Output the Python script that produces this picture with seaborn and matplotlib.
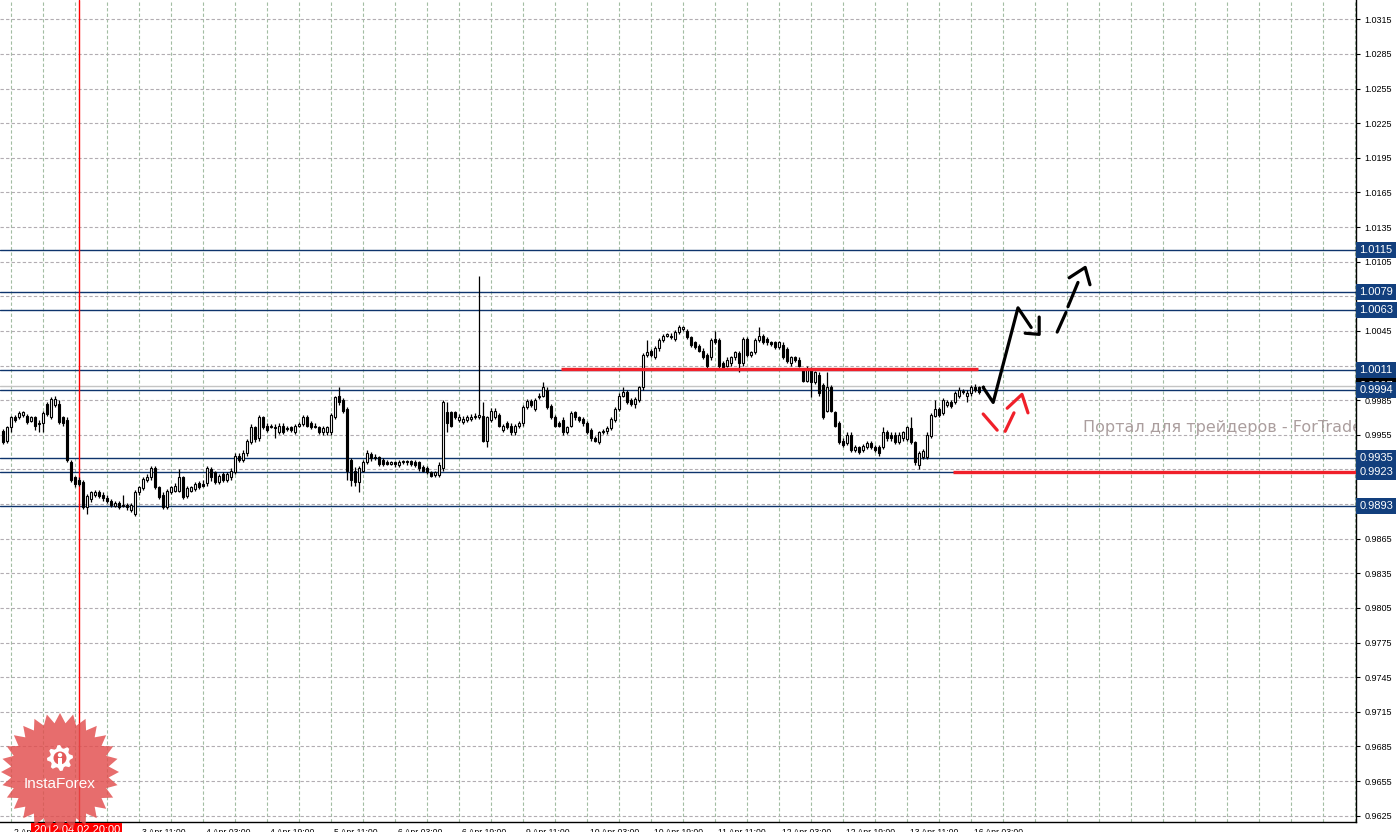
import matplotlib
matplotlib.use("Agg")
import matplotlib.pyplot as plt
import matplotlib.transforms as mtransforms
from matplotlib.patches import Polygon, Circle
import numpy as np
import pandas as pd
import seaborn as sns

# EURCHF-like H1 candles, 2 Apr 01:00 .. 16 Apr, one bar per hour
opens = [
    0.9958, 0.9950, 0.9962, 0.9970, 0.9970, 0.9972, 0.9971, 0.9967, 0.9970, 0.9964,
    0.9965, 0.9982, 0.9970, 0.9981, 0.9982, 0.9970, 0.9968, 0.9931, 0.9918, 0.9916,
    0.9914, 0.9892, 0.9899, 0.9903, 0.9905, 0.9903, 0.9900, 0.9898, 0.9893, 0.9896,
    0.9894, 0.9894, 0.9890, 0.9886, 0.9905, 0.9909, 0.9916, 0.9918, 0.9926, 0.9910,
    0.9903, 0.9892, 0.9905, 0.9906, 0.9906, 0.9918, 0.9902, 0.9906, 0.9908, 0.9913,
    0.9912, 0.9913, 0.9925, 0.9923, 0.9914, 0.9921, 0.9916, 0.9918, 0.9923, 0.9937,
    0.9933, 0.9939, 0.9949, 0.9962, 0.9952, 0.9970, 0.9963, 0.9963, 0.9962, 0.9957,
    0.9963, 0.9961, 0.9962, 0.9957, 0.9963, 0.9964, 0.9970, 0.9965, 0.9963, 0.9962,
    0.9957, 0.9957, 0.9957, 0.9970, 0.9989, 0.9985, 0.9977, 0.9933, 0.9924, 0.9914,
    0.9924, 0.9931, 0.9938, 0.9936, 0.9936, 0.9933, 0.9931, 0.9930, 0.9931, 0.9929,
    0.9931, 0.9932, 0.9932, 0.9931, 0.9931, 0.9927, 0.9926, 0.9923, 0.9920, 0.9920,
    0.9926, 0.9975, 0.9975, 0.9975, 0.9968, 0.9966, 0.9968, 0.9969, 0.9970, 0.9970,
    0.9971, 0.9950, 0.9968, 0.9970, 0.9972, 0.9959, 0.9965, 0.9963, 0.9957, 0.9963,
    0.9965, 0.9979, 0.9984, 0.9977, 0.9988, 0.9989, 0.9994, 0.9980, 0.9970, 0.9965,
    0.9968, 0.9957, 0.9963, 0.9975, 0.9970, 0.9969, 0.9965, 0.9959, 0.9952, 0.9949,
    0.9957, 0.9958, 0.9961, 0.9968, 0.9977, 0.9989, 0.9992, 0.9985, 0.9982, 0.9985,
    0.9996, 1.0024, 1.0028, 1.0022, 1.0030, 1.0037, 1.0041, 1.0041, 1.0038, 1.0044,
    1.0047, 1.0045, 1.0040, 1.0035, 1.0032, 1.0028, 1.0024, 1.0022, 1.0038, 1.0037,
    1.0017, 1.0015, 1.0017, 1.0022, 1.0026, 1.0017, 1.0038, 1.0024, 1.0027, 1.0037,
    1.0041, 1.0038, 1.0035, 1.0035, 1.0031, 1.0033, 1.0029, 1.0017, 1.0022, 1.0020,
    1.0011, 1.0002, 1.0012, 1.0001, 1.0007, 0.9998, 0.9976, 0.9996, 0.9975, 0.9965,
    0.9950, 0.9948, 0.9955, 0.9942, 0.9944, 0.9942, 0.9944, 0.9948, 0.9944, 0.9944,
    0.9944, 0.9957, 0.9955, 0.9955, 0.9949, 0.9952, 0.9951, 0.9961, 0.9949, 0.9929,
    0.9936, 0.9936, 0.9954, 0.9971, 0.9977, 0.9974, 0.9981, 0.9983, 0.9983, 0.9989,
    0.9992, 0.9989, 0.9991, 0.9996, 0.9996, 0.9996,
]
closes = [
    0.9949, 0.9962, 0.9970, 0.9968, 0.9974, 0.9975, 0.9966, 0.9970, 0.9963, 0.9965,
    0.9974, 0.9973, 0.9986, 0.9986, 0.9966, 0.9965, 0.9933, 0.9916, 0.9912, 0.9912,
    0.9892, 0.9902, 0.9905, 0.9905, 0.9902, 0.9900, 0.9898, 0.9894, 0.9896, 0.9892,
    0.9893, 0.9892, 0.9894, 0.9905, 0.9910, 0.9917, 0.9918, 0.9926, 0.9910, 0.9901,
    0.9892, 0.9906, 0.9910, 0.9911, 0.9918, 0.9901, 0.9909, 0.9910, 0.9912, 0.9910,
    0.9911, 0.9926, 0.9918, 0.9914, 0.9919, 0.9916, 0.9921, 0.9924, 0.9937, 0.9933,
    0.9939, 0.9950, 0.9962, 0.9951, 0.9970, 0.9962, 0.9959, 0.9962, 0.9961, 0.9963,
    0.9957, 0.9960, 0.9959, 0.9963, 0.9964, 0.9970, 0.9963, 0.9962, 0.9962, 0.9957,
    0.9961, 0.9962, 0.9972, 0.9988, 0.9983, 0.9976, 0.9924, 0.9916, 0.9914, 0.9926,
    0.9931, 0.9939, 0.9935, 0.9935, 0.9930, 0.9930, 0.9930, 0.9931, 0.9930, 0.9931,
    0.9932, 0.9931, 0.9930, 0.9929, 0.9926, 0.9924, 0.9923, 0.9919, 0.9923, 0.9929,
    0.9983, 0.9965, 0.9963, 0.9970, 0.9970, 0.9969, 0.9970, 0.9970, 0.9971, 0.9972,
    0.9950, 0.9970, 0.9976, 0.9976, 0.9963, 0.9963, 0.9962, 0.9957, 0.9963, 0.9965,
    0.9979, 0.9984, 0.9981, 0.9985, 0.9989, 0.9996, 0.9979, 0.9970, 0.9963, 0.9963,
    0.9957, 0.9962, 0.9974, 0.9970, 0.9968, 0.9965, 0.9957, 0.9952, 0.9950, 0.9957,
    0.9958, 0.9961, 0.9969, 0.9977, 0.9989, 0.9992, 0.9983, 0.9982, 0.9986, 0.9996,
    1.0024, 1.0027, 1.0024, 1.0030, 1.0037, 1.0041, 1.0042, 1.0040, 1.0044, 1.0048,
    1.0048, 1.0040, 1.0033, 1.0031, 1.0028, 1.0022, 1.0015, 1.0037, 1.0035, 1.0015,
    1.0013, 1.0020, 1.0022, 1.0027, 1.0017, 1.0038, 1.0024, 1.0027, 1.0037, 1.0041,
    1.0035, 1.0035, 1.0034, 1.0031, 1.0035, 1.0022, 1.0019, 1.0022, 1.0020, 1.0015,
    1.0002, 1.0013, 1.0001, 1.0009, 0.9991, 0.9970, 0.9996, 0.9976, 0.9963, 0.9949,
    0.9946, 0.9955, 0.9942, 0.9944, 0.9940, 0.9945, 0.9948, 0.9944, 0.9942, 0.9939,
    0.9957, 0.9952, 0.9952, 0.9949, 0.9955, 0.9957, 0.9962, 0.9949, 0.9931, 0.9939,
    0.9941, 0.9955, 0.9972, 0.9977, 0.9972, 0.9985, 0.9983, 0.9980, 0.9991, 0.9994,
    0.9993, 0.9991, 0.9996, 0.9994, 0.9992, 0.9997,
]
highs = [
    0.9960, 0.9963, 0.9971, 0.9972, 0.9976, 0.9976, 0.9973, 0.9971, 0.9971, 0.9968,
    0.9976, 0.9983, 0.9988, 0.9989, 0.9985, 0.9971, 0.9970, 0.9933, 0.9919, 0.9918,
    0.9916, 0.9904, 0.9906, 0.9907, 0.9907, 0.9905, 0.9903, 0.9899, 0.9898, 0.9898,
    0.9903, 0.9896, 0.9896, 0.9907, 0.9911, 0.9918, 0.9921, 0.9928, 0.9928, 0.9911,
    0.9905, 0.9908, 0.9911, 0.9913, 0.9925, 0.9919, 0.9911, 0.9911, 0.9914, 0.9915,
    0.9916, 0.9928, 0.9927, 0.9924, 0.9921, 0.9923, 0.9923, 0.9926, 0.9939, 0.9939,
    0.9942, 0.9951, 0.9964, 0.9963, 0.9972, 0.9971, 0.9965, 0.9964, 0.9964, 0.9965,
    0.9965, 0.9963, 0.9963, 0.9964, 0.9966, 0.9972, 0.9972, 0.9967, 0.9965, 0.9963,
    0.9963, 0.9963, 0.9974, 0.9989, 0.9996, 0.9987, 0.9979, 0.9935, 0.9927, 0.9928,
    0.9933, 0.9942, 0.9940, 0.9938, 0.9937, 0.9935, 0.9933, 0.9932, 0.9932, 0.9933,
    0.9933, 0.9933, 0.9933, 0.9933, 0.9932, 0.9929, 0.9928, 0.9924, 0.9924, 0.9931,
    0.9985, 0.9983, 0.9976, 0.9976, 0.9973, 0.9971, 0.9972, 0.9973, 0.9974, 1.0093,
    0.9983, 0.9971, 0.9978, 0.9978, 0.9974, 0.9964, 0.9967, 0.9965, 0.9964, 0.9967,
    0.9981, 0.9986, 0.9986, 0.9987, 0.9991, 1.0001, 0.9996, 0.9982, 0.9972, 0.9967,
    0.9970, 0.9963, 0.9976, 0.9976, 0.9971, 0.9970, 0.9967, 0.9961, 0.9954, 0.9958,
    0.9960, 0.9963, 0.9970, 0.9979, 0.9991, 0.9996, 0.9994, 0.9987, 0.9988, 0.9997,
    1.0026, 1.0037, 1.0029, 1.0032, 1.0039, 1.0042, 1.0043, 1.0043, 1.0046, 1.0050,
    1.0049, 1.0047, 1.0041, 1.0036, 1.0034, 1.0030, 1.0026, 1.0039, 1.0045, 1.0039,
    1.0019, 1.0022, 1.0023, 1.0028, 1.0028, 1.0040, 1.0040, 1.0028, 1.0039, 1.0048,
    1.0042, 1.0040, 1.0036, 1.0036, 1.0036, 1.0035, 1.0031, 1.0023, 1.0023, 1.0022,
    1.0013, 1.0015, 1.0014, 1.0010, 1.0009, 1.0000, 1.0009, 0.9998, 0.9976, 0.9967,
    0.9952, 0.9957, 0.9957, 0.9946, 0.9945, 0.9947, 0.9950, 0.9950, 0.9946, 0.9946,
    0.9962, 0.9959, 0.9957, 0.9957, 0.9957, 0.9958, 0.9963, 0.9970, 0.9950, 0.9941,
    0.9943, 0.9957, 0.9974, 0.9985, 0.9979, 0.9987, 0.9985, 0.9985, 0.9993, 0.9996,
    0.9995, 0.9994, 0.9998, 0.9999, 0.9997, 0.9998,
]
lows = [
    0.9947, 0.9948, 0.9957, 0.9966, 0.9969, 0.9970, 0.9964, 0.9966, 0.9959, 0.9957,
    0.9957, 0.9971, 0.9969, 0.9979, 0.9964, 0.9963, 0.9931, 0.9914, 0.9910, 0.9911,
    0.9891, 0.9886, 0.9897, 0.9901, 0.9900, 0.9898, 0.9896, 0.9892, 0.9892, 0.9891,
    0.9892, 0.9890, 0.9888, 0.9885, 0.9903, 0.9907, 0.9914, 0.9916, 0.9908, 0.9899,
    0.9891, 0.9891, 0.9904, 0.9905, 0.9905, 0.9899, 0.9900, 0.9905, 0.9906, 0.9908,
    0.9910, 0.9911, 0.9915, 0.9912, 0.9912, 0.9914, 0.9914, 0.9916, 0.9921, 0.9931,
    0.9931, 0.9937, 0.9947, 0.9949, 0.9950, 0.9960, 0.9957, 0.9961, 0.9952, 0.9956,
    0.9956, 0.9958, 0.9957, 0.9956, 0.9962, 0.9963, 0.9962, 0.9960, 0.9961, 0.9956,
    0.9955, 0.9955, 0.9955, 0.9969, 0.9981, 0.9974, 0.9916, 0.9911, 0.9911, 0.9905,
    0.9923, 0.9930, 0.9932, 0.9933, 0.9928, 0.9928, 0.9929, 0.9929, 0.9927, 0.9927,
    0.9930, 0.9929, 0.9928, 0.9927, 0.9924, 0.9923, 0.9921, 0.9918, 0.9918, 0.9918,
    0.9924, 0.9957, 0.9962, 0.9969, 0.9966, 0.9964, 0.9966, 0.9967, 0.9969, 0.9969,
    0.9949, 0.9944, 0.9966, 0.9969, 0.9962, 0.9957, 0.9960, 0.9955, 0.9955, 0.9961,
    0.9963, 0.9977, 0.9979, 0.9976, 0.9986, 0.9988, 0.9977, 0.9969, 0.9962, 0.9962,
    0.9955, 0.9956, 0.9962, 0.9968, 0.9966, 0.9963, 0.9956, 0.9950, 0.9949, 0.9947,
    0.9956, 0.9956, 0.9959, 0.9966, 0.9976, 0.9988, 0.9982, 0.9980, 0.9978, 0.9983,
    0.9994, 1.0022, 1.0022, 1.0021, 1.0028, 1.0035, 1.0040, 1.0038, 1.0036, 1.0042,
    1.0045, 1.0038, 1.0031, 1.0029, 1.0027, 1.0021, 1.0013, 1.0020, 1.0034, 1.0013,
    1.0011, 1.0014, 1.0015, 1.0020, 1.0009, 1.0015, 1.0022, 1.0022, 1.0025, 1.0035,
    1.0034, 1.0033, 1.0032, 1.0029, 1.0029, 1.0021, 1.0017, 1.0015, 1.0018, 1.0014,
    1.0001, 1.0001, 0.9988, 0.9999, 0.9989, 0.9969, 0.9975, 0.9975, 0.9962, 0.9947,
    0.9944, 0.9946, 0.9940, 0.9940, 0.9938, 0.9940, 0.9943, 0.9943, 0.9940, 0.9937,
    0.9943, 0.9950, 0.9950, 0.9947, 0.9947, 0.9950, 0.9950, 0.9947, 0.9929, 0.9925,
    0.9934, 0.9934, 0.9952, 0.9970, 0.9970, 0.9972, 0.9979, 0.9978, 0.9982, 0.9987,
    0.9990, 0.9983, 0.9989, 0.9992, 0.9990, 0.9995,
]

# time axis labels (bar index -> label)
tick_bars = [2, 18, 34, 50, 66, 82, 98, 114, 130, 146, 162, 178, 194, 210, 226, 242]
tick_labels = ["2 Apr 03:00", "2 Apr 19:00", "3 Apr 11:00", "4 Apr 03:00", "4 Apr 19:00",
               "5 Apr 11:00", "6 Apr 03:00", "6 Apr 19:00", "9 Apr 11:00", "10 Apr 03:00",
               "10 Apr 19:00", "11 Apr 11:00", "12 Apr 03:00", "12 Apr 19:00",
               "13 Apr 11:00", "16 Apr 03:00"]

y_ticks = [0.9625, 0.9655, 0.9685, 0.9715, 0.9745, 0.9775, 0.9805, 0.9835, 0.9865,
           0.9895, 0.9925, 0.9955, 0.9985, 1.0015, 1.0045, 1.0075, 1.0105, 1.0135,
           1.0165, 1.0195, 1.0225, 1.0255, 1.0285, 1.0315]

# horizontal support / resistance levels
levels = [1.0115, 1.0079, 1.0063, 1.0011, 0.9994, 0.9935, 0.9923, 0.9893]
bid = 0.9997
cross_bar = 19
cross_label = "2012.04.02 20:00"

red_levels = [(1.0012, 139.6, 243.8), (0.9923, 237.6, 338.3)]

# hand-drawn forecast strokes (bar, price)
black_strokes = [
    ([245.1, 247.6, 253.8, 257.1], [0.9996, 0.9983, 1.0065, 1.0048]),
    ([255.6, 259.1, 259.1], [1.0043, 1.0042, 1.0057]),
    ([263.6, 265.8], [1.0044, 1.0061]),
    ([266.3, 268.8], [1.0066, 1.0087]),
    ([266.6, 270.6, 271.8], [1.0091, 1.0100, 1.0085]),
]
red_strokes = [
    ([245.1, 248.6], [0.9973, 0.9959]),
    ([250.6, 252.8], [0.9958, 0.9974]),
    ([251.1, 254.8, 256.3], [0.9978, 0.9990, 0.9974]),
]

sns.set_style("white")
plt.rcParams["font.family"] = ["Liberation Sans", "DejaVu Sans"]

W, H = 1399, 832
fig = plt.figure(figsize=(W / 100, H / 100), dpi=100)
ax = fig.add_axes([0, (H - 822) / H, 1356 / W, 822 / H])

df = pd.DataFrame({"open": opens, "close": closes, "high": highs, "low": lows})
df["bar"] = np.arange(len(df))
up = df["close"] >= df["open"]

# grid: vertical every 8 bars (greenish), horizontal at price ticks (grey)
for b in range(2, 339, 8):
    ax.axvline(b, color="#a3bda3", lw=0.8, ls=(0, (3, 2)), zorder=0)
for v in y_ticks:
    ax.axhline(v, color="#b2adb2", lw=0.8, ls=(0, (3, 2)), zorder=0)

# levels
for lv in levels:
    ax.axhline(lv, color="#0e346c", lw=1.0, zorder=1)
ax.axhline(bid, color="#c4c4c4", lw=1.0, zorder=1)
ax.axvline(cross_bar, color="#ff0000", lw=1.0, zorder=2)

for price, x0, x1 in red_levels:
    ax.hlines(price, x0, x1, color="#f0202a", lw=2.4, zorder=6)

# candles
ax.vlines(df["bar"], df["low"], df["high"], color="black", lw=0.9, zorder=3)
body = (df["close"] - df["open"]).abs().clip(lower=0.00003)
ax.bar(df["bar"], body, bottom=df[["open", "close"]].min(axis=1), width=0.6,
       color=np.where(up, "white", "black"), edgecolor="black", lw=0.8, zorder=4)

for xs, ys in black_strokes:
    sns.lineplot(x=xs, y=ys, ax=ax, color="black", lw=2.3, sort=False,
                 estimator=None, zorder=7)
for xs, ys in red_strokes:
    sns.lineplot(x=xs, y=ys, ax=ax, color="#f0202a", lw=2.3, sort=False,
                 estimator=None, zorder=7)

ax.set_xlim(-0.675, 338.3)
ax.set_ylim(0.96195, 1.03317)

ax.set_xticks(tick_bars)
ax.set_xticklabels(tick_labels, ha="left")
ax.set_yticks(y_ticks)
ax.set_yticklabels([f"{v:.4f}" for v in y_ticks])
ax.yaxis.tick_right()
ax.tick_params(axis="x", length=3, pad=1, labelsize=6.2, direction="out", colors="black")
ax.tick_params(axis="y", length=3, pad=3, labelsize=6.5, direction="out", colors="black")
shift = mtransforms.ScaledTranslation(3 / 100, 0, fig.dpi_scale_trans)
for lbl in ax.get_xticklabels():
    lbl.set_transform(lbl.get_transform() + shift)

for s in ["top", "left"]:
    ax.spines[s].set_visible(False)
for s in ["right", "bottom"]:
    ax.spines[s].set_color("black")
    ax.spines[s].set_linewidth(1.0)

# price boxes on the right scale
tr = mtransforms.blended_transform_factory(ax.transAxes, ax.transData)
ax.text(1.0025, bid, f"{bid:.4f}", transform=tr, ha="left", va="center",
        fontsize=8, color="white", clip_on=False, zorder=9,
        bbox=dict(boxstyle="square,pad=0.28", fc="black", ec="none"))
for lv in levels:
    ax.text(1.0025, lv, f"{lv:.4f}", transform=tr, ha="left", va="center",
            fontsize=8, color="white", clip_on=False, zorder=10,
            bbox=dict(boxstyle="square,pad=0.28", fc="#123f7d", ec="none"))

# crosshair time label
trx = mtransforms.blended_transform_factory(ax.transData, ax.transAxes)
ax.text(cross_bar - 0.5, -0.004, cross_label, transform=trx, ha="center", va="top",
        fontsize=8, color="white", clip_on=False, zorder=10,
        bbox=dict(boxstyle="square,pad=0.2", fc="#ff0000", ec="none"))

# watermark (clipped by the chart's right edge, as in the terminal)
ax.text(1083 / 1356, (822 - 432) / 822, "Портал для трейдеров - ForTrader.ru",
        transform=ax.transAxes, ha="left", va="baseline", fontsize=11.5,
        color="#ab9e9e", family=["DejaVu Sans"], zorder=2, clip_on=True)

# InstaForex badge (pixel space)
ident = mtransforms.IdentityTransform()
cx, cy = 60, H - 772
n = 28
ang = np.linspace(0, 2 * np.pi, 2 * n, endpoint=False)
rad = np.where(np.arange(2 * n) % 2 == 0, 59, 49)
star = Polygon(np.column_stack([cx + rad * np.cos(ang), cy + rad * np.sin(ang)]),
               closed=True, fc="#e24d4d", ec="none", alpha=0.82, transform=ident)
fig.add_artist(star)
gx, gy = 60, H - 758
ga = np.linspace(0, 2 * np.pi, 32, endpoint=False)
gr = np.where((np.arange(32) // 2) % 2 == 0, 13, 10)
fig.add_artist(Polygon(np.column_stack([gx + gr * np.cos(ga), gy + gr * np.sin(ga)]),
                       closed=True, fc="white", ec="none", transform=ident))
fig.add_artist(Circle((gx, gy), 6.5, fc="#e45a5a", ec="none", transform=ident))
fig.add_artist(Circle((gx, gy + 3), 2.2, fc="white", ec="none", transform=ident))
fig.add_artist(Polygon([[gx - 1.6, gy - 7], [gx + 1.6, gy - 7], [gx + 1.6, gy + 0.5],
                        [gx - 1.6, gy + 0.5]], closed=True, fc="white", ec="none",
                       transform=ident))
fig.text(60 / W, (H - 784) / H, "InstaForex", ha="center", va="center",
         fontsize=11, color="white")

fig.savefig("out.png", dpi=100, facecolor="white")
